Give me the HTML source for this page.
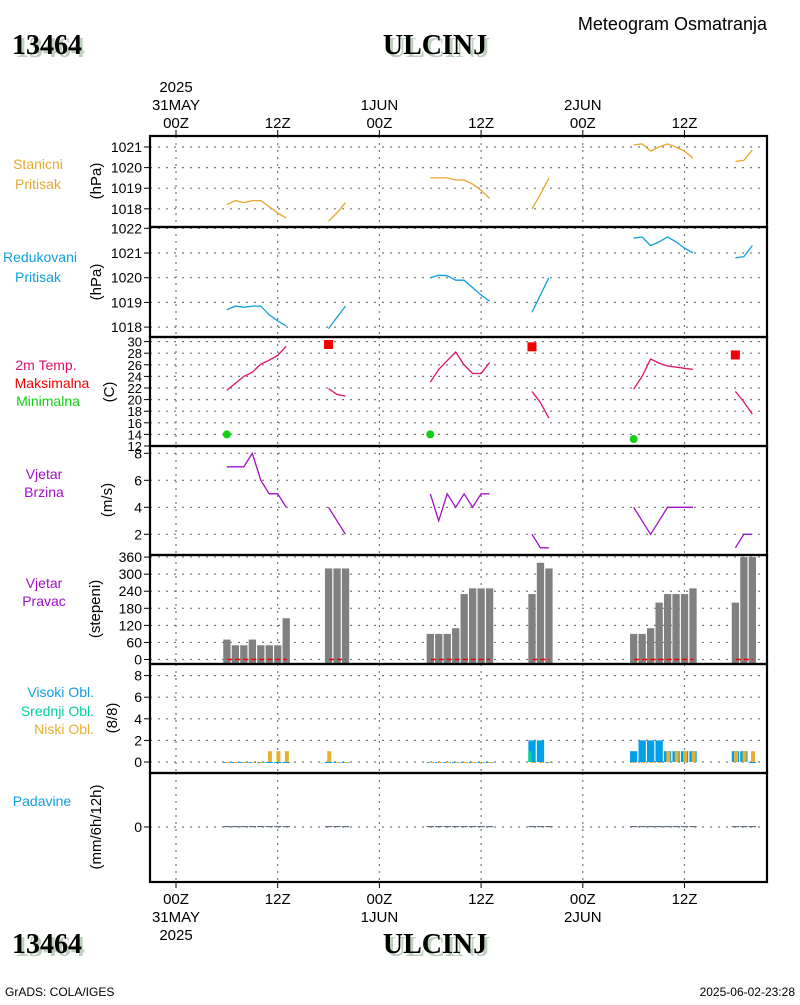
<!DOCTYPE html>
<html><head><meta charset="utf-8">
<style>
html,body{margin:0;padding:0;background:#fff;}
body{width:800px;height:1000px;overflow:hidden;position:relative;font-family:"Liberation Sans",sans-serif;}
.serif{font-family:"Liberation Serif",serif !important;font-weight:bold;}
</style></head>
<body>
<svg id="chart" width="800" height="1000" viewBox="0 0 800 1000" xmlns="http://www.w3.org/2000/svg" style="font-family:'Liberation Sans',sans-serif">
<g id="g"></g>
</svg>
<script>
// ---------- data (hourly observations; segments start at given hour) ----------
const segStarts = [6, 18, 30, 42, 54, 66];
const stanPress = [
  [1018.2,1018.4,1018.3,1018.4,1018.4,1018.1,1017.8,1017.55],
  [1017.4,1017.8,1018.3],
  [1019.5,1019.5,1019.5,1019.4,1019.4,1019.2,1018.9,1018.5],
  [1018.0,1018.7,1019.5],
  [1021.1,1021.15,1020.8,1021.0,1021.15,1021.0,1020.8,1020.45],
  [1020.3,1020.35,1020.85]
];
const redPress = [
  [1018.7,1018.85,1018.8,1018.85,1018.85,1018.5,1018.25,1018.05],
  [1017.93,1018.4,1018.85],
  [1020.0,1020.1,1020.08,1019.9,1019.9,1019.6,1019.3,1019.05],
  [1018.6,1019.3,1020.0],
  [1021.6,1021.65,1021.3,1021.45,1021.65,1021.45,1021.2,1021.0],
  [1020.8,1020.85,1021.3]
];
const temp2m = [
  [21.6,22.8,24.0,24.7,26.1,26.8,27.6,29.2],
  [21.9,20.9,20.6],
  [23.0,25.2,26.7,28.2,26.0,24.5,24.5,26.4],
  [21.4,19.5,16.8],
  [21.8,24.0,27.0,26.3,25.8,25.6,25.4,25.2],
  [21.4,19.6,17.5]
];
const tmaxHours = [18, 42, 66];
const tmaxVals = [29.5, 29.1, 27.7];
const tminHours = [6, 30, 54];
const tminVals = [14.0, 14.0, 13.2];
const windSpd = [
  [7,7,7,8,6,5,5,4],
  [4,3,2],
  [5,3,5,4,5,4,5,5],
  [2,1,1],
  [4,3,2,3,4,4,4,4],
  [1,2,2]
];
const windDir = [
  [70,50,50,70,50,50,50,145],
  [320,320,320],
  [90,90,90,110,230,250,250,250],
  [230,340,320],
  [90,90,110,200,230,230,230,250],
  [200,360,360]
];
const cloudHigh = [
  [0,0,0,0,0,0,0,0],[0,0,0],[0,0,0,0,0,0,0,0],[2,2,0],[1,2,2,2,1,1,1,1],[1,1,0]
];
const cloudMid = [
  [0,0,0,0,0,0,0,0],[0,0,0],[0,0,0,0,0,0,0,0],[1,0,0],[0,0,0,0,0,0,0,0],[0,0,0]
];
const cloudLow = [
  [0,0,0,0,0,1,1,1],[1,0,0],[0,0,0,0,0,0,0,0],[0,0,0],[0,0,0,0,1,1,1,1],[1,1,1]
];
const precip = [
  [0,0,0,0,0,0,0,0],[0,0,0],[0,0,0,0,0,0,0,0],[0,0,0],[0,0,0,0,0,0,0,0],[0,0,0]
];
const timeTickHours = [0,12,24,36,48,60];
const timeTickLabels = ["00Z","12Z","00Z","12Z","00Z","12Z"];
const dateTop = ["31MAY","","1JUN","","2JUN",""];
const stanTicks = [1018,1019,1020,1021];
const redTicks = [1018,1019,1020,1021,1022];
const tempTicks = [12,14,16,18,20,22,24,26,28,30];
const spdTicks = [2,4,6,8];
const dirTicks = [0,60,120,180,240,300,360];
const cldTicks = [0,2,4,6,8];
const prTicks = [0];

// ---------- scales ----------
const X0 = 150, X1 = 767;
const xH = h => 176 + h * (101.7/12);
const yStan = p => 147 + (1021 - p) * 20.6;
const yRed = p => 253 + (1021 - p) * 24.7;
const yTemp = t => 446 - (t - 12) * 5.8;
const ySpd = v => 534.3 - (v - 2) * 13.5;
const yDir = d => 659.5 - d * 0.2845;
const yCld = c => 762 - c * 10.8;
const yPr = r => 827 - r * 20;

const NS = "http://www.w3.org/2000/svg";
const G = document.getElementById('g');
function mk(tag, attrs, parent){
  const e = document.createElementNS(NS, tag);
  for (const k in attrs) e.setAttribute(k, attrs[k]);
  (parent || G).appendChild(e);
  return e;
}
function txt(x, y, s, opt, parent){
  const t = mk('text', Object.assign({x:x, y:y, 'font-size':15, fill:'#000'}, opt || {}), parent);
  t.textContent = s;
  return t;
}

const panels = [
  {top:136, bot:227, ticks:stanTicks, y:yStan, name:'station-pressure'},
  {top:227, bot:337, ticks:redTicks, y:yRed, name:'reduced-pressure'},
  {top:337, bot:446, ticks:tempTicks, y:yTemp, name:'temperature'},
  {top:446, bot:555, ticks:spdTicks, y:ySpd, name:'wind-speed'},
  {top:555, bot:664, ticks:dirTicks, y:yDir, name:'wind-direction'},
  {top:664, bot:773, ticks:cldTicks, y:yCld, name:'cloud-cover'},
  {top:773, bot:882, ticks:prTicks, y:yPr, name:'precipitation'}
];

panels.forEach(p => {
  const pg = mk('g', {});
  
  
  timeTickHours.forEach(h => {
    const l = mk('line', {x1:xH(h), x2:xH(h), y1:p.top, y2:p.bot, stroke:'#777', 'stroke-width':1.2, 'stroke-dasharray':'2,5'}, pg);
    
    
  });
  p.ticks.forEach(v => {
    const y = p.y(v);
    const l = mk('line', {x1:X0, x2:X1, y1:y, y2:y, stroke:'#777', 'stroke-width':1.2, 'stroke-dasharray':'2,6'}, pg);
    
    
    mk('line', {x1:X0-6, x2:X0, y1:y, y2:y, stroke:'#000', 'stroke-width':1}, pg);
    const t = txt(X0-8, y+5, String(v), {'text-anchor':'end', 'font-size': p.name==='temperature'?13:14}, pg);
    
    
  });
});

function drawLines(series, yf, color, name){
  series.forEach((vals, si) => {
    const pts = vals.map((v, i) => xH(segStarts[si] + i).toFixed(1) + ',' + yf(v).toFixed(1)).join(' ');
    const pl = mk('polyline', {points:pts, fill:'none', stroke:color, 'stroke-width':1.3});
    
    
  });
}
drawLines(stanPress, yStan, '#e8a830', 'station-pressure');
drawLines(redPress, yRed, '#10a0e0', 'reduced-pressure');
drawLines(temp2m, yTemp, '#e0106a', 'temperature');
drawLines(windSpd, ySpd, '#a010c8', 'wind-speed');

tmaxHours.forEach((h, i) => {
  const r = mk('rect', {x:xH(h)-4.5, y:yTemp(tmaxVals[i])-4.5, width:9, height:9, fill:'#f00000'});
  
  
});
tminHours.forEach((h, i) => {
  const c = mk('circle', {cx:xH(h), cy:yTemp(tminVals[i]), r:4, fill:'#10d010'});
  
  
});

windDir.forEach((vals, si) => {
  vals.forEach((v, i) => {
    const x = xH(segStarts[si] + i);
    const r = mk('rect', {x:x-3.6, y:yDir(v), width:7.3, height:yDir(0)+4.5-yDir(v), fill:'#808080'});
    
    
  });
  const xa = xH(segStarts[si]) + 0.5, xb = xH(segStarts[si] + vals.length - 1) + 0.5;
  const d = mk('line', {x1:xa, x2:xb, y1:yDir(0), y2:yDir(0), stroke:'#f00000', 'stroke-width':1.5, 'stroke-dasharray':'5,3'});
  
  
});

segStarts.forEach((s, si) => {
  cloudHigh[si].forEach((v, i) => {
    const x = xH(s + i);
    const r = mk('rect', {x:x-3.6, y:yCld(v), width:7.3, height:Math.max(1, yCld(0)-yCld(v)), fill:'#00a0e8'});
    
    
    if (cloudMid[si][i] > 0) {
      const m = mk('rect', {x:x-3.6, y:yCld(cloudMid[si][i]), width:3.5, height:yCld(0)-yCld(cloudMid[si][i]), fill:'#00d890'});
      
      
    }
    const lv = cloudLow[si][i];
    const l = mk('rect', {x:x-1.3, y:yCld(lv), width:4, height:Math.max(1, yCld(0)-yCld(lv)), fill:'#e8b030'});
    
    
  });
});

precip.forEach((vals, si) => {
  vals.forEach((v, i) => {
    const x = xH(segStarts[si] + i);
    const r = mk('rect', {x:x-3.6, y:yPr(v)-1, width:7.3, height:Math.max(1.2, yPr(0)-yPr(v)), fill:'#607080'});
    
    
  });
});

panels.forEach(p => {
  const r = mk('rect', {x:X0, y:p.top, width:X1-X0, height:p.bot-p.top, fill:'none', stroke:'#000', 'stroke-width':2.2});
  
  
});

timeTickHours.forEach((h, i) => {
  const x = xH(h);
  mk('line', {x1:x, x2:x, y1:130, y2:136, stroke:'#000', 'stroke-width':1});
  mk('line', {x1:x, x2:x, y1:882, y2:888, stroke:'#000', 'stroke-width':1});
  const t = txt(x, 128, timeTickLabels[i], {'text-anchor':'middle'});
  
  
  const b = txt(x, 904, timeTickLabels[i], {'text-anchor':'middle'});
  
  
  if (dateTop[i]) {
    const d = txt(x, 110, dateTop[i], {'text-anchor':'middle'});
    
    
    const d2 = txt(x, 922, dateTop[i], {'text-anchor':'middle'});
    
    
  }
});
</script>
<svg style="position:absolute;left:0;top:0;font-family:'Liberation Sans',sans-serif" width="800" height="1000">
  <text x="176" y="92" text-anchor="middle" font-size="15">2025</text>
  <text x="176" y="940" text-anchor="middle" font-size="15">2025</text>

  <g class="serif" font-size="28">
    <text class="serif" x="15" y="57" fill="#c0d0c0">13464</text>
    <text class="serif" x="12" y="54" fill="#000">13464</text>
    <text class="serif" x="438" y="57" text-anchor="middle" fill="#c0d0c0">ULCINJ</text>
    <text class="serif" x="435" y="54" text-anchor="middle" fill="#000">ULCINJ</text>
    <text class="serif" x="15" y="956" fill="#c0d0c0">13464</text>
    <text class="serif" x="12" y="953" fill="#000">13464</text>
    <text class="serif" x="438" y="956" text-anchor="middle" fill="#c0d0c0">ULCINJ</text>
    <text class="serif" x="435" y="953" text-anchor="middle" fill="#000">ULCINJ</text>
  </g>
  <text x="767" y="30" text-anchor="end" font-size="18">Meteogram Osmatranja</text>

  <g font-size="14" text-anchor="middle">
    <text x="38" y="169" fill="#e8a830">Stanicni</text>
    <text x="38" y="189" fill="#e8a830">Pritisak</text>
    <text x="40" y="262" fill="#10a0e0">Redukovani</text>
    <text x="38" y="282" fill="#10a0e0">Pritisak</text>
    <text x="46" y="370" fill="#e0106a">2m Temp.</text>
    <text x="52" y="388" fill="#f00000">Maksimalna</text>
    <text x="48" y="406" fill="#10d010">Minimalna</text>
    <text x="44" y="479" fill="#a010c8">Vjetar</text>
    <text x="44" y="497" fill="#a010c8">Brzina</text>
    <text x="44" y="588" fill="#a010c8">Vjetar</text>
    <text x="44" y="606" fill="#a010c8">Pravac</text>
    <text x="94" y="697" fill="#10a0e0" text-anchor="end">Visoki Obl.</text>
    <text x="94" y="716" fill="#00d0a0" text-anchor="end">Srednji Obl.</text>
    <text x="94" y="734" fill="#e8b030" text-anchor="end">Niski Obl.</text>
    <text x="42" y="806" fill="#10a0e0">Padavine</text>
  </g>
  <g font-size="15" text-anchor="middle">
    <text transform="translate(101,181) rotate(-90)">(hPa)</text>
    <text transform="translate(101,282) rotate(-90)">(hPa)</text>
    <text transform="translate(114,392) rotate(-90)">(C)</text>
    <text transform="translate(112,500) rotate(-90)">(m/s)</text>
    <text transform="translate(100,609) rotate(-90)">(stepeni)</text>
    <text transform="translate(117,718) rotate(-90)">(8/8)</text>
    <text transform="translate(101,827) rotate(-90)">(mm/6h/12h)</text>
  </g>
  <text x="5" y="996" font-size="12">GrADS: COLA/IGES</text>
  <text x="795" y="996" font-size="12" text-anchor="end">2025-06-02-23:28</text>
</svg>
</body></html>
